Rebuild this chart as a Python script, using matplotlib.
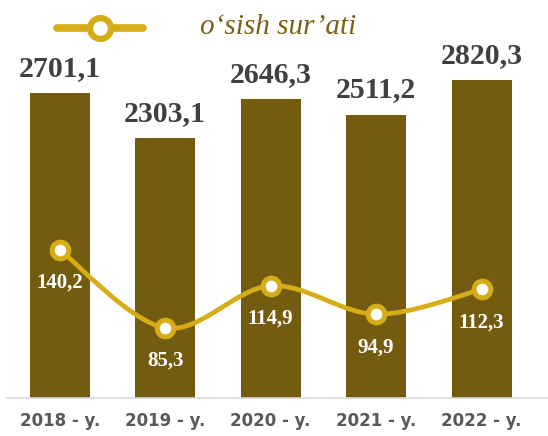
import numpy as np
import matplotlib.pyplot as plt
from matplotlib.path import Path
from matplotlib.patches import PathPatch
from matplotlib.lines import Line2D

years = ['2018 - y.', '2019 - y.', '2020 - y.', '2021 - y.', '2022 - y.']
volume = [2701.1, 2303.1, 2646.3, 2511.2, 2820.3]
growth = [140.2, 85.3, 114.9, 94.9, 112.3]
volume_labels = ['2701,1', '2303,1', '2646,3', '2511,2', '2820,3']
growth_labels = ['140,2', '85,3', '114,9', '94,9', '112,3']

bar_color = '#735C10'
line_color = '#D6AD17'
W, H = 548, 436

fig = plt.figure(figsize=(W / 100, H / 100), dpi=100)
# axes in pixel coords: left 7, bottom at y=398 (from top), top at y=30
ax = fig.add_axes([7 / W, (H - 398) / H, (W - 7) / W, 368 / H])
x = np.arange(len(years))

ax.bar(x, volume, width=0.57, color=bar_color, zorder=2)
ax.set_xlim(-0.5, 4.63)
ax.set_ylim(0, 3260)
for xi, v, lab in zip(x, volume, volume_labels):
    ax.annotate(lab, (xi, v), xytext=(0, 11), textcoords='offset pixels',
                ha='center', va='bottom', fontsize=21.5, fontweight='bold',
                family='Liberation Serif', color='#404040')

for s in ['top', 'right', 'left']:
    ax.spines[s].set_visible(False)
ax.spines['bottom'].set_color('#D9D9D9')
ax.spines['bottom'].set_linewidth(1.2)
ax.set_yticks([])
ax.set_xticks(x)
ax.set_xticklabels(years, fontsize=12, fontweight='bold', color='#595959',
                   family='DejaVu Sans')
ax.tick_params(axis='x', length=0, pad=10)

ax2 = ax.twinx()
ax2.set_ylim(35.9, 295)
ax2.axis('off')

# smoothed line (Catmull-Rom to cubic Bezier), like Excel's smoothed line
pts = np.column_stack([x, growth]).astype(float)
verts = [tuple(pts[0])]
codes = [Path.MOVETO]
for i in range(len(pts) - 1):
    p0 = pts[i - 1] if i > 0 else pts[i]
    p1, p2 = pts[i], pts[i + 1]
    p3 = pts[i + 2] if i + 2 < len(pts) else pts[i + 1]
    c1 = p1 + (p2 - p0) / 6
    c2 = p2 - (p3 - p1) / 6
    verts += [tuple(c1), tuple(c2), tuple(p2)]
    codes += [Path.CURVE4] * 3
ax2.add_patch(PathPatch(Path(verts, codes), fill=False, edgecolor=line_color,
                        lw=3.4, zorder=3))
ax2.plot(x, growth, ls='none', marker='o', ms=12, mfc='white',
         mec=line_color, mew=3.6, zorder=4)
for xi, v, lab in zip(x, growth, growth_labels):
    ax2.annotate(lab, (xi, v), xytext=(0, -33), textcoords='offset pixels',
                 ha='center', va='center', fontsize=15, fontweight='bold',
                 family='Liberation Serif', color='white', zorder=5)

# legend fragment at top
leg = fig.add_axes([0, 0, 1, 1])
leg.set_xlim(0, W)
leg.set_ylim(H, 0)
leg.axis('off')
leg.add_line(Line2D([57, 143], [28, 28], color=line_color, lw=5.5,
                    solid_capstyle='round'))
leg.plot([100], [28], marker='o', ms=15, mfc='white', mec=line_color, mew=4.5)
leg.text(200, 27, 'o‘sish sur’ati', fontsize=21, style='italic',
         family='Liberation Serif', color='#7A5F14', va='center', ha='left')

fig.savefig('out.png', dpi=100)
